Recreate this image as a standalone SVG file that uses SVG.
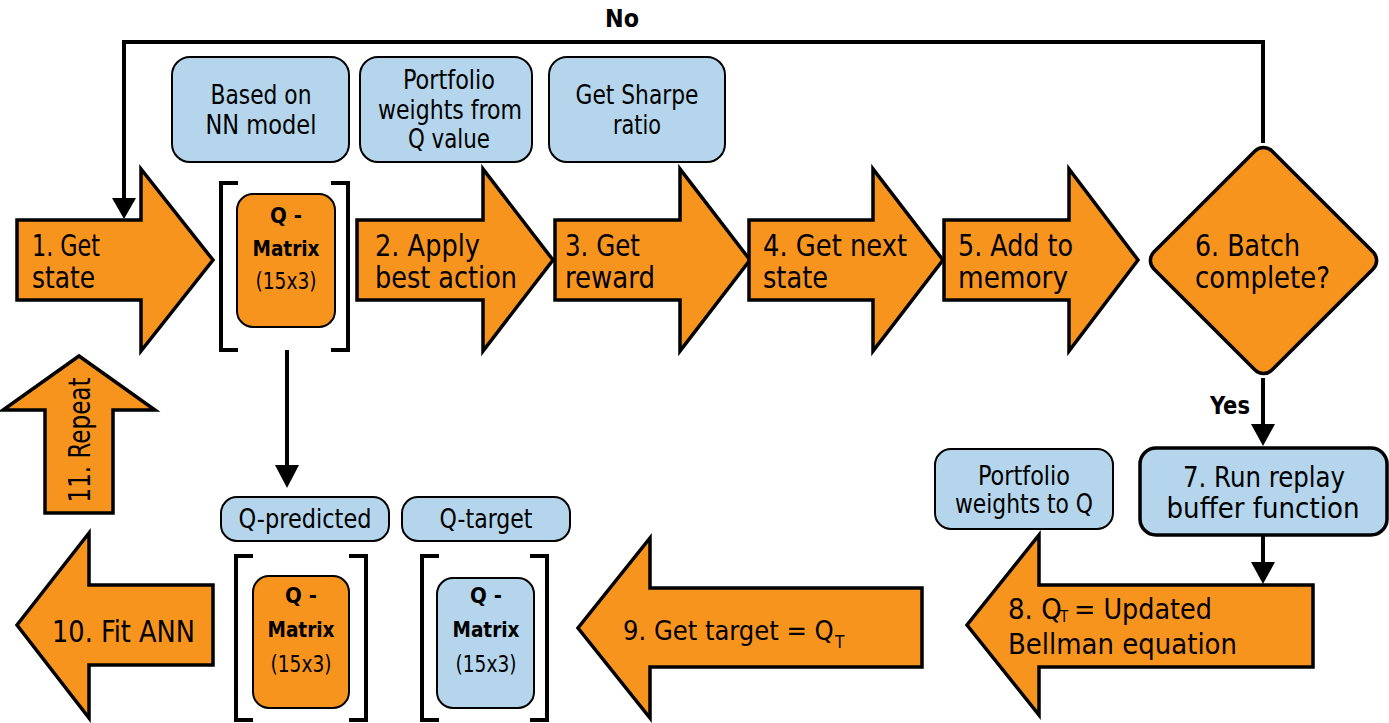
<svg xmlns="http://www.w3.org/2000/svg" width="1389" height="723" viewBox="0 0 1389 723">
<defs>
<style>
.o{fill:#F7941E;stroke:#000;stroke-width:3.5;stroke-linejoin:miter}
.b{fill:#B4D5EB;stroke:#000;stroke-width:2}
.bo{fill:#F7941E;stroke:#000;stroke-width:2}
.br{fill:none;stroke:#000;stroke-width:4}
.ln{fill:none;stroke:#000;stroke-width:4}
.hd{fill:#000}
text{font-family:"DejaVu Sans Condensed","Liberation Sans Narrow","Liberation Sans",sans-serif;fill:#000}
.t{font-size:30px}
.s{font-size:26px}
.m{font-size:22px;text-anchor:middle}
.mb{font-weight:bold}
.c{text-anchor:middle}
.lb{font-size:24px;font-weight:bold;text-anchor:middle}
.sub{font-size:15px}
</style>
</defs>
<g id="connectors">
<path class="ln" d="M1263,143 V42 H124 V200"/>
<polygon class="hd" points="112,198 136,198 124,219"/>
<path class="ln" d="M1263,378 V426"/>
<polygon class="hd" points="1251,424 1275,424 1263,446"/>
<path class="ln" d="M1263,535 V564"/>
<polygon class="hd" points="1251,562 1275,562 1263,584"/>
<path class="ln" d="M287,350 V467"/>
<polygon class="hd" points="275,465 299,465 287,488"/>
<text class="lb" x="622" y="27" textLength="34" lengthAdjust="spacingAndGlyphs">No</text>
<text class="lb" x="1230" y="414" textLength="40" lengthAdjust="spacingAndGlyphs">Yes</text>
</g>
<g id="n1"><polygon class="o" points="17,220 141,220 141,169 213,260 141,351 141,300 17,300"/><text class="t" x="32" y="256" textLength="68" lengthAdjust="spacingAndGlyphs">1. Get</text><text class="t" x="32" y="288" textLength="63" lengthAdjust="spacingAndGlyphs">state</text></g>
<g id="qm1"><path class="br" d="M238,183 H221 V350 H238 M331,183 H348 V350 H331"/><rect class="bo" x="237" y="194" width="98" height="133" rx="16"/><text class="m mb" x="286" y="223">Q -</text><text class="m mb" x="286" y="256" textLength="67" lengthAdjust="spacingAndGlyphs">Matrix</text><text class="m" x="286" y="289" style="font-size:23px" textLength="61" lengthAdjust="spacingAndGlyphs">(15x3)</text></g>
<g id="n2"><polygon class="o" points="357,220 483,220 483,169 553,260 483,351 483,300 357,300"/><text class="t" x="375" y="256" textLength="105" lengthAdjust="spacingAndGlyphs">2. Apply</text><text class="t" x="375" y="288" textLength="142" lengthAdjust="spacingAndGlyphs">best action</text></g>
<g id="n3"><polygon class="o" points="555,220 680,220 680,169 750,260 680,351 680,300 555,300"/><text class="t" x="565" y="256" textLength="75" lengthAdjust="spacingAndGlyphs">3. Get</text><text class="t" x="565" y="288" textLength="90" lengthAdjust="spacingAndGlyphs">reward</text></g>
<g id="n4"><polygon class="o" points="749,220 873,220 873,169 943,260 873,351 873,300 749,300"/><text class="t" x="763" y="256" textLength="144" lengthAdjust="spacingAndGlyphs">4. Get next</text><text class="t" x="763" y="288" textLength="65" lengthAdjust="spacingAndGlyphs">state</text></g>
<g id="n5"><polygon class="o" points="944,220 1069,220 1069,169 1138,260 1069,351 1069,300 944,300"/><text class="t" x="958" y="256" textLength="115" lengthAdjust="spacingAndGlyphs">5. Add to</text><text class="t" x="958" y="288" textLength="110" lengthAdjust="spacingAndGlyphs">memory</text></g>
<g id="n6"><rect class="o" x="1180" y="177" width="167" height="167" rx="12" transform="rotate(45 1263.5 260.5)"/><text class="t" x="1195" y="256" textLength="105" lengthAdjust="spacingAndGlyphs">6. Batch</text><text class="t" x="1195" y="288" textLength="135" lengthAdjust="spacingAndGlyphs">complete?</text></g>
<g id="c1"><rect class="b" x="172" y="57" width="177" height="105" rx="18"/><text class="s c" x="261" y="104" textLength="101" lengthAdjust="spacingAndGlyphs">Based on</text><text class="s c" x="261" y="134" textLength="111" lengthAdjust="spacingAndGlyphs">NN model</text></g>
<g id="c2"><rect class="b" x="360" y="57" width="172" height="105" rx="18"/><text class="s c" x="449" y="89" textLength="92" lengthAdjust="spacingAndGlyphs">Portfolio</text><text class="s c" x="450" y="119" textLength="144" lengthAdjust="spacingAndGlyphs">weights from</text><text class="s c" x="449" y="148" textLength="82" lengthAdjust="spacingAndGlyphs">Q value</text></g>
<g id="c3"><rect class="b" x="549" y="57" width="176" height="105" rx="18"/><text class="s c" x="637" y="104" textLength="123" lengthAdjust="spacingAndGlyphs">Get Sharpe</text><text class="s c" x="637" y="134" textLength="48" lengthAdjust="spacingAndGlyphs">ratio</text></g>
<g id="n7"><rect class="b" x="1140" y="448" width="247" height="87" rx="16" style="stroke-width:3.5"/><text class="c" style="font-size:29px" x="1264" y="487" textLength="162" lengthAdjust="spacingAndGlyphs">7. Run replay</text><text class="c" style="font-size:29px" x="1263" y="518" textLength="193" lengthAdjust="spacingAndGlyphs">buffer function</text></g>
<g id="c4"><rect class="b" x="935" y="449" width="178" height="80" rx="16"/><text class="c" style="font-size:26px" x="1024" y="485" textLength="92" lengthAdjust="spacingAndGlyphs">Portfolio</text><text class="c" style="font-size:26px" x="1024" y="513" textLength="138" lengthAdjust="spacingAndGlyphs">weights to Q</text></g>
<g id="n8"><polygon class="o" points="1313,585 1039,585 1039,535 967,625 1039,715 1039,667 1313,667"/><text class="t" style="font-size:29px" x="1008" y="619">8. Q</text><text class="sub" x="1060" y="622">T</text><text class="t" style="font-size:29px" x="1074" y="619" textLength="138" lengthAdjust="spacingAndGlyphs">= Updated</text><text class="t" style="font-size:29px" x="1008" y="654" textLength="229" lengthAdjust="spacingAndGlyphs">Bellman equation</text></g>
<g id="n9"><polygon class="o" points="922,588 650,588 650,538 578,628 650,718 650,667 922,667"/><text class="t" style="font-size:27px" x="623" y="640">9. Get target = Q</text><text class="sub" style="font-size:17px" x="835" y="648">T</text></g>
<g id="qm2"><rect class="b" x="221" y="497" width="168" height="44" rx="16"/><text class="s c" x="305" y="528" textLength="133" lengthAdjust="spacingAndGlyphs">Q-predicted</text><path class="br" d="M253,556 H236 V720 H253 M349,556 H366 V720 H349"/><rect class="bo" x="253" y="576" width="96" height="132" rx="16"/><text class="m mb" x="301" y="603">Q -</text><text class="m mb" x="301" y="637" textLength="67" lengthAdjust="spacingAndGlyphs">Matrix</text><text class="m" x="301" y="672" style="font-size:23px" textLength="61" lengthAdjust="spacingAndGlyphs">(15x3)</text></g>
<g id="qm3"><rect class="b" x="402" y="497" width="168" height="44" rx="16"/><text class="s c" x="486" y="528" textLength="93" lengthAdjust="spacingAndGlyphs">Q-target</text><path class="br" d="M439,556 H422 V720 H439 M530,556 H547 V720 H530"/><rect class="b" x="437" y="578" width="97" height="130" rx="16"/><text class="m mb" x="486" y="603">Q -</text><text class="m mb" x="486" y="637" textLength="67" lengthAdjust="spacingAndGlyphs">Matrix</text><text class="m" x="486" y="672" style="font-size:23px" textLength="61" lengthAdjust="spacingAndGlyphs">(15x3)</text></g>
<g id="n10"><polygon class="o" points="213,585 89,585 89,533 17,625 89,718 89,665 213,665"/><text class="t" x="52" y="642" textLength="143" lengthAdjust="spacingAndGlyphs">10. Fit ANN</text></g>
<g id="n11"><polygon class="o" points="45,513 45,410 3,410 79,356 155,410 113,410 113,513"/><text class="t c" transform="translate(90,440) rotate(-90)" textLength="125" lengthAdjust="spacingAndGlyphs">11. Repeat</text></g>
</svg>
